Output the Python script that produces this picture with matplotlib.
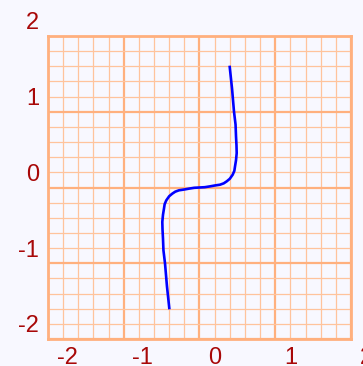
import numpy as np
import matplotlib
matplotlib.use('Agg')
import matplotlib.pyplot as plt

curve_x = [-0.599, -0.63, -0.655, -0.676, -0.682, -0.688, -0.691, -0.682,
           -0.669, -0.66, -0.638, -0.6, -0.559, -0.52, -0.471, -0.405,
           -0.339, -0.27, -0.2, -0.13, -0.061, 0.005, 0.071, 0.12, 0.159,
           0.2, 0.238, 0.26, 0.269, 0.282, 0.291, 0.288, 0.282, 0.276,
           0.255, 0.23, 0.199]
curve_y = [-1.791, -1.5, -1.205, -1.029, -0.875, -0.76, -0.655, -0.56,
           -0.479, -0.42, -0.369, -0.315, -0.281, -0.255, -0.237, -0.227,
           -0.215, -0.204, -0.2, -0.196, -0.185, -0.173, -0.163, -0.145,
           -0.119, -0.085, -0.031, 0.02, 0.079, 0.16, 0.255, 0.36, 0.475,
           0.63, 0.805, 1.1, 1.391]

tick_values = [-2, -1, 0, 1, 2]
tick_labels = ['-2', '-1', '0', '1', '2']

# grid runs from -2.2 to 1.8 on both axes
lo, hi = -2.2, 1.8
major_lines = np.arange(lo, hi + 0.01, 1.0)
minor_lines = np.arange(lo, hi + 0.01, 0.2)

BG = '#F8F8FF'
MAJOR = '#FFB07E'
MINOR = '#FFC39C'
LABEL = '#A80808'

fig = plt.figure(figsize=(3.63, 3.66), dpi=100, facecolor=BG)
ax = fig.add_axes([48 / 363, 27 / 366, 303 / 363, 303 / 366], facecolor=BG)
ax.set_xlim(lo, hi)
ax.set_ylim(lo, hi)

ax.set_xticks(major_lines)
ax.set_yticks(major_lines)
ax.set_xticks(minor_lines, minor=True)
ax.set_yticks(minor_lines, minor=True)
ax.tick_params(which='both', length=0, labelbottom=False, labelleft=False)
ax.grid(which='minor', color=MINOR, linewidth=0.9)
ax.grid(which='major', color=MAJOR, linewidth=1.6)
ax.set_axisbelow(True)
for s in ax.spines.values():
    s.set_color(MAJOR)
    s.set_linewidth(2.0)

ax.plot(curve_x, curve_y, color='#0000FF', linewidth=1.9,
        solid_joinstyle='round', zorder=3)

font = dict(family=['Liberation Sans', 'DejaVu Sans'], fontsize=17, color=LABEL)

# x labels below the grid, y labels to the left
for v, lab in zip(tick_values, tick_labels):
    dx = 4 if v < 0 else 0
    ax.annotate(lab, xy=(v, lo), xytext=(dx, -25.5), textcoords='offset pixels',
                ha='center', va='baseline', annotation_clip=False, **font)
    ax.annotate(lab, xy=(lo, v), xytext=(-9, -8.5), textcoords='offset pixels',
                ha='right', va='baseline', annotation_clip=False, **font)

fig.savefig('out.png', dpi=100, facecolor=BG)
